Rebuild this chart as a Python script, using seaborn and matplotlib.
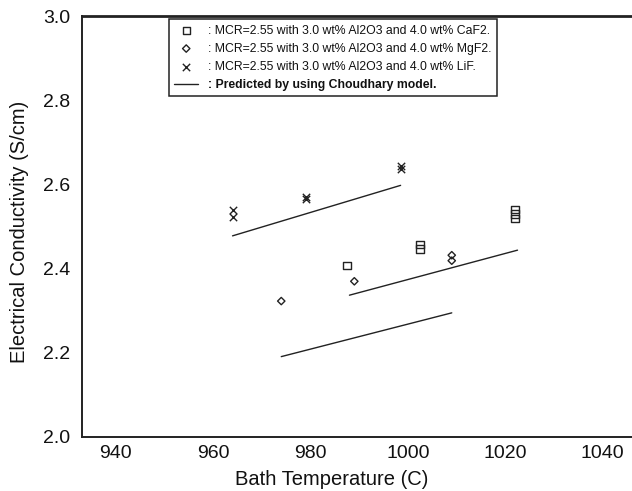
import matplotlib
matplotlib.use("Agg")
import matplotlib.pyplot as plt
from matplotlib.ticker import MultipleLocator
import seaborn as sns
import pandas as pd

sns.set_theme(style="white")
plt.rcParams["font.family"] = ["Liberation Sans", "DejaVu Sans"]

# Measured conductivities (S/cm) vs bath temperature (C)
caf2_temp = [987.5, 1002.5, 1002.5, 1022.0, 1022.0, 1022.0]
caf2_cond = [2.408, 2.447, 2.458, 2.520, 2.530, 2.540]

mgf2_temp = [974.0, 989.0, 1009.0, 1009.0]
mgf2_cond = [2.323, 2.370, 2.419, 2.432]

lif_temp = [964.0, 964.0, 979.0, 979.0, 998.5, 998.5]
lif_cond = [2.523, 2.539, 2.565, 2.570, 2.638, 2.644]

# Choudhary model predictions (end points of each straight line)
pred_lif_temp = [964.0, 998.5]
pred_lif_cond = [2.478, 2.598]
pred_caf2_temp = [988.0, 1022.5]
pred_caf2_cond = [2.337, 2.444]
pred_mgf2_temp = [974.0, 1009.0]
pred_mgf2_cond = [2.191, 2.295]

labels = [
    ": MCR=2.55 with 3.0 wt% Al2O3 and 4.0 wt% CaF2.",
    ": MCR=2.55 with 3.0 wt% Al2O3 and 4.0 wt% MgF2.",
    ": MCR=2.55 with 3.0 wt% Al2O3 and 4.0 wt% LiF.",
    ": Predicted by using Choudhary model.",
]
yticks = [2.0, 2.2, 2.4, 2.6, 2.8, 3.0]
ytick_labels = ["2.0", "2.2", "2.4", "2.6", "2.8", "3.0"]

ink = "#222222"
fig = plt.figure(figsize=(6.32, 4.91), dpi=100)
ax = fig.add_axes([0.129, 0.110, 0.871, 0.857])

sns.scatterplot(x=caf2_temp, y=caf2_cond, marker="s", s=28, facecolor="none",
                edgecolor=ink, linewidth=1.0, label=labels[0], ax=ax)
sns.scatterplot(x=mgf2_temp, y=mgf2_cond, marker="D", s=14, facecolor="none",
                edgecolor=ink, linewidth=1.0, label=labels[1], ax=ax)
sns.scatterplot(x=lif_temp, y=lif_cond, marker="x", s=28, color=ink,
                linewidth=1.0, label=labels[2], ax=ax)

for i, (tx, cy) in enumerate([(pred_lif_temp, pred_lif_cond),
                              (pred_caf2_temp, pred_caf2_cond),
                              (pred_mgf2_temp, pred_mgf2_cond)]):
    sns.lineplot(x=tx, y=cy, color=ink, linewidth=1.0,
                 label=labels[3] if i == 0 else None, ax=ax)

ax.set_xlim(933.0, 1046.0)
ax.set_ylim(2.0, 3.0)
ax.xaxis.set_major_locator(MultipleLocator(20))
ax.xaxis.set_minor_locator(MultipleLocator(10))
ax.yaxis.set_minor_locator(MultipleLocator(0.1))
ax.set_yticks(yticks)
ax.set_yticklabels(ytick_labels)

ax.tick_params(axis="both", which="both", direction="in", colors=ink,
               labelsize=14, labelcolor="#111111")
ax.tick_params(axis="both", which="major", length=5, width=0.8)
ax.tick_params(axis="both", which="minor", length=5, width=0.8)
ax.tick_params(axis="x", pad=6)
ax.tick_params(axis="y", pad=8)

for side in ["left", "bottom"]:
    ax.spines[side].set_color(ink)
    ax.spines[side].set_linewidth(1.4)
ax.spines["top"].set_color(ink)
ax.spines["top"].set_linewidth(2.0)
ax.spines["right"].set_visible(False)

ax.set_xlabel("Bath Temperature (C)", fontsize=14.5, color="#111111")
ax.set_ylabel("Electrical Conductivity (S/cm)", fontsize=14.5, color="#111111")
ax.xaxis.set_label_coords(0.455, -0.078)
ax.yaxis.set_label_coords(-0.096, 0.487)

leg = ax.legend(loc="upper left", bbox_to_anchor=(0.158, 0.993),
                borderaxespad=0, fontsize=8.8,
                frameon=True, fancybox=False, edgecolor=ink, framealpha=1,
                handlelength=2.0, handletextpad=0.8, borderpad=0.45,
                labelspacing=0.5)
leg.get_frame().set_linewidth(1.1)
for t in leg.get_texts():
    t.set_color("#111111")
leg.get_texts()[3].set_fontweight("bold")

fig.savefig("out.png", dpi=100)
